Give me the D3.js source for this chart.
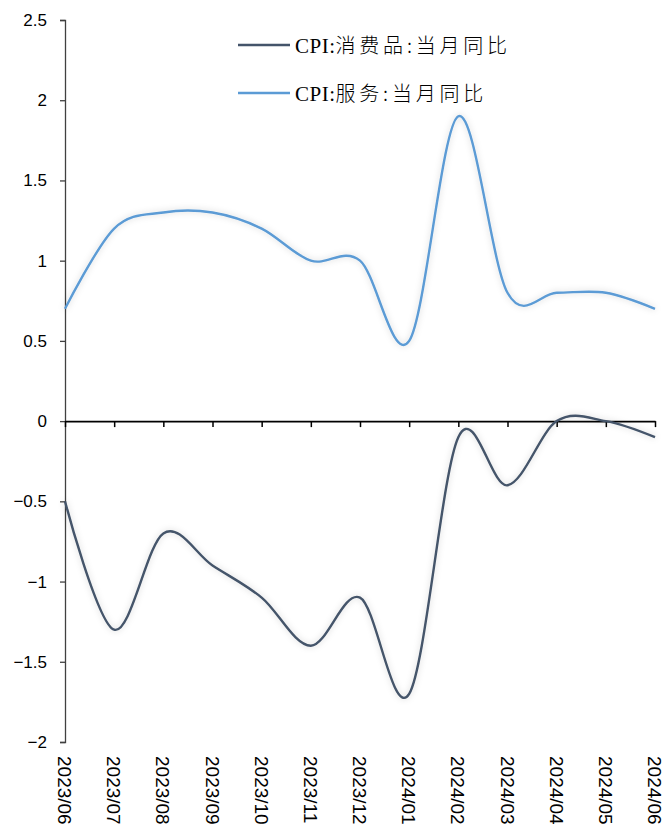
<!DOCTYPE html>
<html><head><meta charset="utf-8">
<script src="https://cdn.jsdelivr.net/npm/d3@7"></script>
<style>
html,body{margin:0;padding:0;background:#fff;}
svg{display:block;}
</style></head>
<body>
<script>
// Monthly CPI year-on-year change (%)
const months = ["2023/06","2023/07","2023/08","2023/09","2023/10","2023/11","2023/12","2024/01","2024/02","2024/03","2024/04","2024/05","2024/06"];
const goodsYoY = [-0.5, -1.3, -0.7, -0.9, -1.1, -1.4, -1.1, -1.7, -0.1, -0.4, 0.0, 0.0, -0.1];
const servicesYoY = [0.7, 1.2, 1.3, 1.3, 1.2, 1.0, 1.0, 0.5, 1.9, 0.8, 0.8, 0.8, 0.7];
const yTicks = [2.5, 2, 1.5, 1, 0.5, 0, -0.5, -1, -1.5, -2];
const seriesPrefix = "CPI:";
const seriesNames = ["消费品:当月同比", "服务:当月同比"];
const seriesColors = ["#44546A", "#5B9BD5"];

const W = 664, H = 833;
const svg = d3.select("body").append("svg").attr("width", W).attr("height", H);

// soft grey halo under the lines
const defs = svg.append("defs");
const glow = defs.append("filter").attr("id", "glow")
  .attr("x", "-10%").attr("y", "-10%").attr("width", "120%").attr("height", "120%");
glow.append("feGaussianBlur").attr("in", "SourceAlpha").attr("stdDeviation", 3).attr("result", "b");
glow.append("feFlood").attr("flood-color", "#000").attr("flood-opacity", 0.18);
glow.append("feComposite").attr("in2", "b").attr("operator", "in").attr("result", "s");
const m = glow.append("feMerge");
m.append("feMergeNode").attr("in", "s");
m.append("feMergeNode").attr("in", "SourceGraphic");

const x = d3.scalePoint().domain(months).range([65, 655]);
const y = d3.scaleLinear().domain([-2, 2.5]).range([742, 20]);

// y axis
const yAxis = svg.append("g").attr("transform", "translate(65,0)")
  .call(d3.axisLeft(y).tickValues(yTicks).tickSize(5).tickPadding(13).tickFormat(d => d3.format("")(d)));
yAxis.select(".domain").attr("stroke", "#404040").attr("stroke-width", 1.3);
yAxis.selectAll(".tick line").attr("stroke", "#404040").attr("stroke-width", 1.3);
yAxis.selectAll(".tick text").attr("font-family", "Liberation Sans, Arial, sans-serif")
  .attr("font-size", 17).attr("fill", "#000");

// x axis along zero
const xAxis = svg.append("g").attr("transform", `translate(0,${y(0)})`)
  .call(d3.axisBottom(x).tickSize(6).tickSizeOuter(0).tickFormat(""));
xAxis.select(".domain").attr("stroke", "#000").attr("stroke-width", 1.6);
xAxis.selectAll(".tick line").attr("stroke", "#000").attr("stroke-width", 1.5);

// rotated month labels at the bottom
svg.append("g").selectAll("text").data(months).join("text")
  .attr("transform", d => `translate(${x(d)},756) rotate(90)`)
  .attr("dy", "0.36em")
  .attr("font-family", "Liberation Sans, Arial, sans-serif")
  .attr("font-size", 19).attr("fill", "#000")
  .text(d => d);

const line = d3.line().x((d, i) => x(months[i])).y(d => y(d)).curve(d3.curveCatmullRom.alpha(0));

[goodsYoY, servicesYoY].forEach((s, i) => {
  svg.append("path").datum(s)
    .attr("d", line)
    .attr("fill", "none")
    .attr("stroke", seriesColors[i])
    .attr("stroke-width", 2.4)
    .attr("filter", "url(#glow)");
});

// legend
const lg = svg.append("g");
seriesNames.forEach((n, i) => {
  const ly = 45 + i * 48;
  lg.append("line").attr("x1", 238).attr("x2", 290).attr("y1", ly).attr("y2", ly)
    .attr("stroke", seriesColors[i]).attr("stroke-width", 2.4);
  const t = lg.append("text").attr("x", 295).attr("y", ly).attr("dy", "0.36em")
    .attr("font-family", "Liberation Serif, Noto Sans CJK SC, serif")
    .attr("font-size", 21).attr("fill", "#000");
  t.append("tspan").attr("letter-spacing", 0.5).text(seriesPrefix);
  t.append("tspan").attr("letter-spacing", 3.8)
    .attr("font-family", "Noto Sans CJK SC, sans-serif").attr("font-size", 20).attr("font-weight", 300)
    .text(n);
});
</script>
</body></html>
